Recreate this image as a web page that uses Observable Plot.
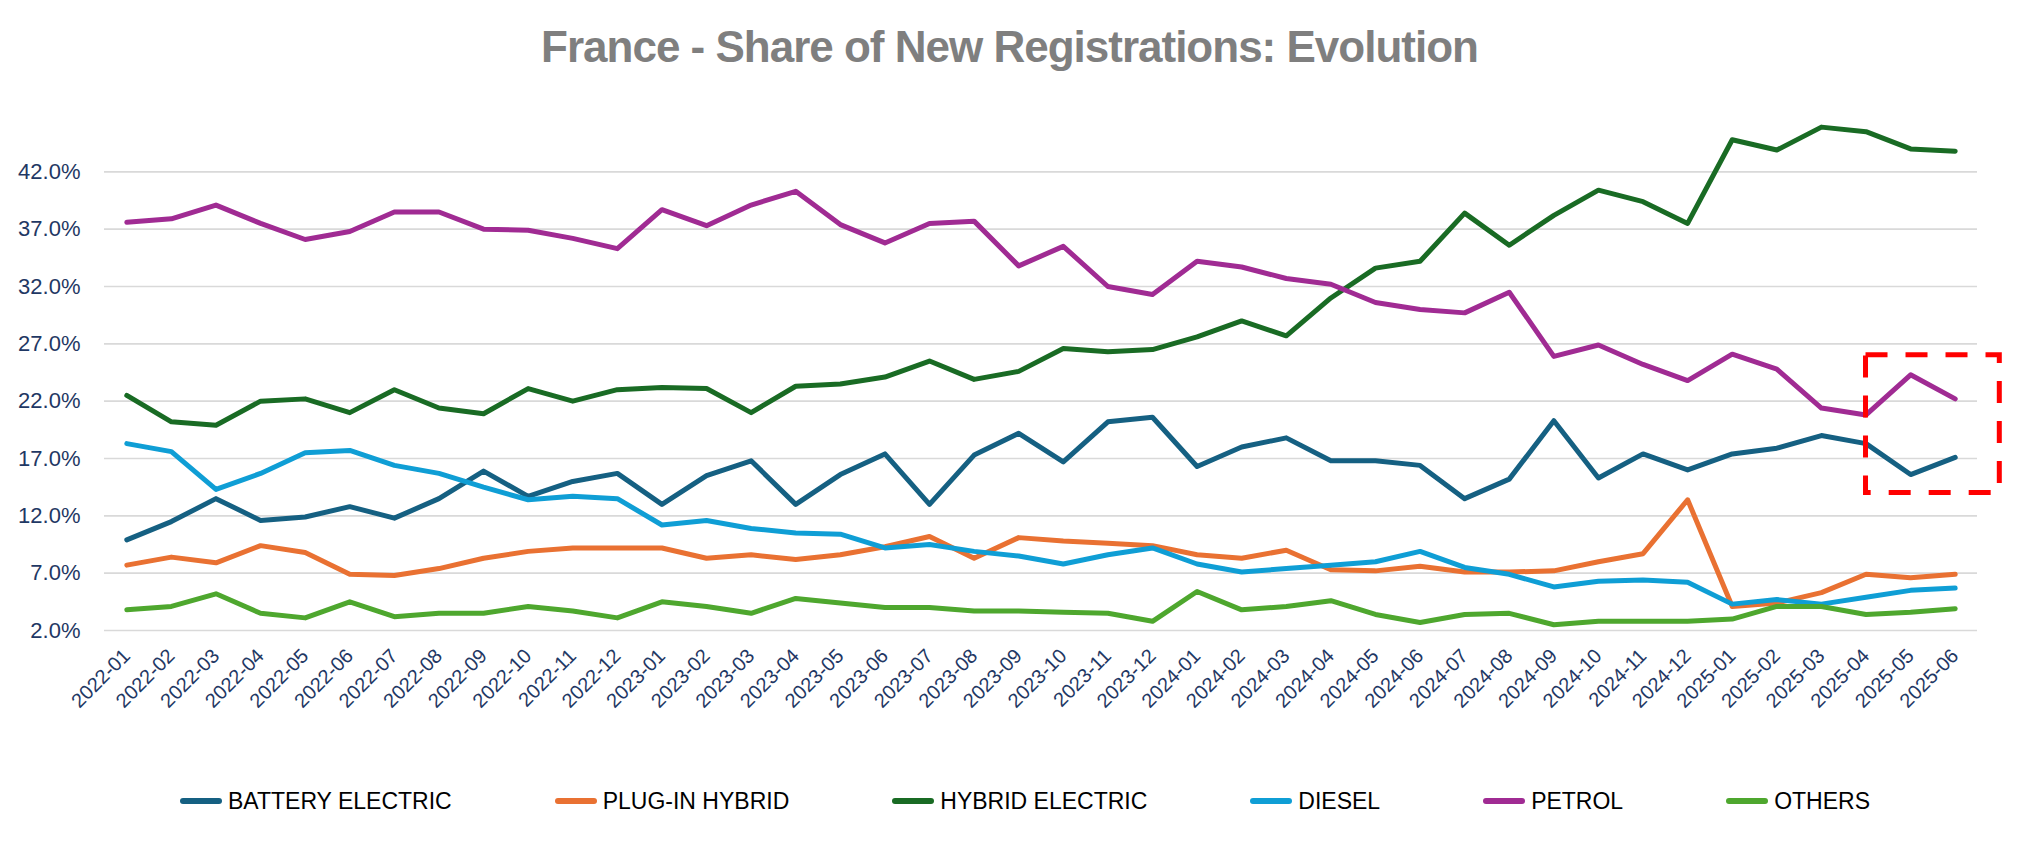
<!DOCTYPE html>
<html>
<head>
<meta charset="utf-8">
<script src="https://cdn.jsdelivr.net/npm/d3@7"></script>
<script src="https://cdn.jsdelivr.net/npm/@observablehq/plot@0.6"></script>
<style>
  html, body { margin: 0; padding: 0; background: #fff; }
  #page { position: relative; width: 2019px; height: 851px; overflow: hidden; font-family: "Liberation Sans", Arial, sans-serif; }
  #title { position: absolute; left: 0; top: 22px; width: 2019px; text-align: center; font-size: 44px; line-height: 1.15; font-weight: bold; color: #7f7f7f; letter-spacing: -1px; }
  #chart { position: absolute; left: 0; top: 100px; }
  #legend { position: absolute; left: 180px; top: 786px; height: 30px; display: flex; align-items: center; gap: 103px; font-size: 23px; color: #000; }
  .item { display: flex; align-items: center; gap: 6px; white-space: nowrap; }
  .sw { width: 42px; height: 6px; border-radius: 3px; }
</style>
</head>
<body>
<div id="page">
  <div id="title"></div>
  <div id="chart"></div>
  <div id="legend"></div>
</div>
<script>
const titleText = "France - Share of New Registrations: Evolution";

const months = ["2022-01","2022-02","2022-03","2022-04","2022-05","2022-06","2022-07","2022-08","2022-09","2022-10","2022-11","2022-12",
  "2023-01","2023-02","2023-03","2023-04","2023-05","2023-06","2023-07","2023-08","2023-09","2023-10","2023-11","2023-12",
  "2024-01","2024-02","2024-03","2024-04","2024-05","2024-06","2024-07","2024-08","2024-09","2024-10","2024-11","2024-12",
  "2025-01","2025-02","2025-03","2025-04","2025-05","2025-06"];

const seriesNames = ["BATTERY ELECTRIC", "PLUG-IN HYBRID", "HYBRID ELECTRIC", "DIESEL", "PETROL", "OTHERS"];
const seriesColors = ["#156082", "#E97132", "#196B24", "#0F9ED5", "#A02B93", "#4EA72E"];

const batteryElectric = [9.9, 11.5, 13.5, 11.6, 11.9, 12.8, 11.8, 13.5, 15.9, 13.7, 15.0, 15.7, 13.0, 15.5, 16.8, 13.0, 15.6, 17.4, 13.0, 17.3, 19.2, 16.7, 20.2, 20.6, 16.3, 18.0, 18.8, 16.8, 16.8, 16.4, 13.5, 15.2, 20.3, 15.3, 17.4, 16.0, 17.4, 17.9, 19.0, 18.3, 15.6, 17.1];
const plugInHybrid = [7.7, 8.4, 7.9, 9.4, 8.8, 6.9, 6.8, 7.4, 8.3, 8.9, 9.2, 9.2, 9.2, 8.3, 8.6, 8.2, 8.6, 9.3, 10.2, 8.3, 10.1, 9.8, 9.6, 9.4, 8.6, 8.3, 9.0, 7.3, 7.2, 7.6, 7.1, 7.1, 7.2, 8.0, 8.7, 13.4, 4.1, 4.4, 5.3, 6.9, 6.6, 6.9];
const hybridElectric = [22.5, 20.2, 19.9, 22.0, 22.2, 21.0, 23.0, 21.4, 20.9, 23.1, 22.0, 23.0, 23.2, 23.1, 21.0, 23.3, 23.5, 24.1, 25.5, 23.9, 24.6, 26.6, 26.3, 26.5, 27.6, 29.0, 27.7, 31.0, 33.6, 34.2, 38.4, 35.6, 38.2, 40.4, 39.4, 37.5, 44.8, 43.9, 45.9, 45.5, 44.0, 43.8];
const diesel = [18.3, 17.6, 14.3, 15.7, 17.5, 17.7, 16.4, 15.7, 14.5, 13.4, 13.7, 13.5, 11.2, 11.6, 10.9, 10.5, 10.4, 9.2, 9.5, 8.9, 8.5, 7.8, 8.6, 9.2, 7.8, 7.1, 7.4, 7.7, 8.0, 8.9, 7.5, 6.9, 5.8, 6.3, 6.4, 6.2, 4.3, 4.7, 4.3, 4.9, 5.5, 5.7];
const petrol = [37.6, 37.9, 39.1, 37.5, 36.1, 36.8, 38.5, 38.5, 37.0, 36.9, 36.2, 35.3, 38.7, 37.3, 39.1, 40.3, 37.4, 35.8, 37.5, 37.7, 33.8, 35.5, 32.0, 31.3, 34.2, 33.7, 32.7, 32.2, 30.6, 30.0, 29.7, 31.5, 25.9, 26.9, 25.2, 23.8, 26.1, 24.8, 21.4, 20.8, 24.3, 22.2];
const others = [3.8, 4.1, 5.2, 3.5, 3.1, 4.5, 3.2, 3.5, 3.5, 4.1, 3.7, 3.1, 4.5, 4.1, 3.5, 4.8, 4.4, 4.0, 4.0, 3.7, 3.7, 3.6, 3.5, 2.8, 5.4, 3.8, 4.1, 4.6, 3.4, 2.7, 3.4, 3.5, 2.5, 2.8, 2.8, 2.8, 3.0, 4.1, 4.1, 3.4, 3.6, 3.9];

const yTicks = [2, 7, 12, 17, 22, 27, 32, 37, 42];

// highlighted area (data coordinates: month index range, share range)
const highlight = [{x1: 39, x2: 42, y1: 14, y2: 26}];

const seriesValues = [batteryElectric, plugInHybrid, hybridElectric, diesel, petrol, others];
const rows = seriesNames.flatMap((name, s) => seriesValues[s].map((v, i) => ({series: name, i, value: v})));

document.getElementById("title").textContent = titleText;

const navy = "#1F3864";
const chart = Plot.plot({
  width: 2019,
  height: 640,
  marginLeft: 104,
  marginRight: 42,
  marginTop: 14,
  marginBottom: 110,
  style: {fontFamily: "'Liberation Sans', Arial, sans-serif", background: "transparent", overflow: "visible"},
  x: {domain: [-0.5, months.length - 0.5]},
  y: {domain: [2, 47]},
  color: {domain: seriesNames, range: seriesColors},
  marks: [
    Plot.ruleY(yTicks, {stroke: "#d9d9d9", strokeWidth: 1.6}),
    Plot.axisY({ticks: yTicks, tickFormat: d => d.toFixed(1) + "%", tickSize: 0, tickPadding: 24, fontSize: 22, color: navy, fill: navy}),
    Plot.axisX({ticks: months.map((m, i) => i), tickFormat: i => months[i], tickRotate: -45, tickSize: 0, tickPadding: 22, fontSize: 20, color: navy, fill: navy}),
    Plot.line(rows, {x: "i", y: "value", z: "series", stroke: "series", strokeWidth: 5, strokeLinecap: "round", strokeLinejoin: "round"}),
    Plot.rect(highlight, {x1: "x1", x2: "x2", y1: "y1", y2: "y2", fill: "none", stroke: "#ff0000", strokeWidth: 5, strokeDasharray: "22,18", clip: false})
  ]
});
document.getElementById("chart").appendChild(chart);

const legend = document.getElementById("legend");
seriesNames.forEach((name, s) => {
  const item = document.createElement("div");
  item.className = "item";
  const sw = document.createElement("div");
  sw.className = "sw";
  sw.style.background = seriesColors[s];
  const label = document.createElement("span");
  label.textContent = name;
  item.appendChild(sw);
  item.appendChild(label);
  legend.appendChild(item);
});
</script>
</body>
</html>
